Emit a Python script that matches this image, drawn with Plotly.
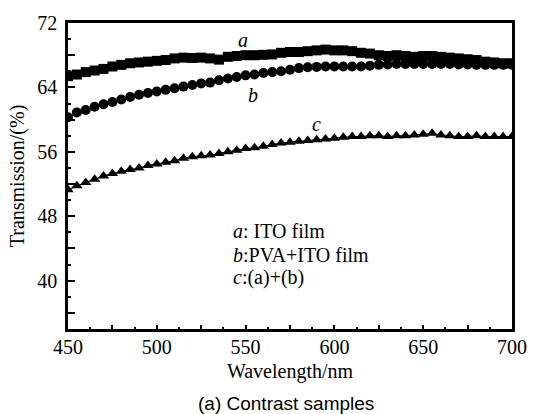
import plotly.graph_objects as go

wavelength = list(range(450, 701, 5))

ito_film = [65.4, 65.6, 65.9, 66.1, 66.3, 66.6, 66.8, 67.0, 67.1, 67.2,
            67.3, 67.4, 67.6, 67.7, 67.65, 67.7, 67.6, 67.45, 67.8, 67.9,
            68.0, 68.0, 68.05, 68.1, 68.3, 68.4, 68.4, 68.5, 68.6, 68.7,
            68.6, 68.6, 68.5, 68.3, 68.2, 68.0, 67.9, 68.0, 67.9, 67.8,
            67.9, 67.9, 67.8, 67.7, 67.6, 67.5, 67.4, 67.2, 67.1, 67.0, 67.0]

pva_ito_film = [60.3, 60.9, 61.2, 61.6, 61.9, 62.2, 62.5, 62.8, 63.1, 63.3,
                63.5, 63.7, 63.9, 64.1, 64.3, 64.5, 64.6, 64.9, 65.1, 65.3,
                65.5, 65.6, 65.8, 65.9, 66.0, 66.2, 66.4, 66.5, 66.55, 66.6,
                66.6, 66.6, 66.6, 66.6, 66.7, 66.8, 66.85, 66.9, 66.9, 66.9,
                66.9, 66.9, 66.9, 66.9, 66.85, 66.85, 66.8, 66.8, 66.8, 66.8, 66.8]

combined = [51.3, 51.8, 52.2, 52.6, 53.0, 53.3, 53.6, 53.8, 54.0, 54.3,
            54.5, 54.7, 54.9, 55.2, 55.4, 55.5, 55.6, 55.8, 56.0, 56.2,
            56.4, 56.5, 56.7, 56.9, 57.1, 57.2, 57.3, 57.4, 57.5, 57.6,
            57.7, 57.8, 57.9, 57.9, 58.0, 58.0, 57.9, 58.0, 58.0, 58.1,
            58.2, 58.3, 58.1, 58.0, 57.9, 57.9, 58.0, 57.9, 57.9, 57.9, 57.9]

x_tickvals = [450, 475, 500, 525, 550, 575, 600, 625, 650, 675, 700]
x_ticktext = ["450", "", "500", "", "550", "", "600", "", "650", "", "700"]
y_tickvals = [36, 40, 44, 48, 52, 56, 60, 64, 68, 72]
y_ticktext = ["", "40", "", "48", "", "56", "", "64", "", "72"]

SERIF = "Liberation Serif"

fig = go.Figure()
series = [(ito_film, "square"), (pva_ito_film, "circle"), (combined, "triangle-up")]
for vals, sym in series:
    fig.add_trace(go.Scatter(
        x=wavelength, y=vals, mode="lines+markers",
        line=dict(color="black", width=1),
        marker=dict(symbol=sym, size=10, color="black"),
        showlegend=False, hoverinfo="skip"))

axis_common = dict(showgrid=False, zeroline=False, showline=True, linecolor="black",
                   linewidth=2.5, mirror=True, ticks="inside", tickcolor="black",
                   tickfont=dict(family=SERIF, size=20, color="black"))

fig.update_xaxes(range=[450, 700], tickmode="array", tickvals=x_tickvals, ticktext=x_ticktext,
                 ticklen=4, tickwidth=2, ticklabelstandoff=-2,
                 minor=dict(dtick=12.5, tick0=450, ticks="inside", ticklen=2, tickwidth=2, tickcolor="black"),
                 title=dict(text="Wavelength/nm", font=dict(family=SERIF, size=20, color="black"), standoff=8),
                 **axis_common)
fig.update_yaxes(range=[34, 72], tickmode="array", tickvals=y_tickvals, ticktext=y_ticktext,
                 ticklen=7, tickwidth=2, ticklabelstandoff=4,
                 minor=dict(dtick=2, tick0=0, ticks="inside", ticklen=3, tickwidth=2, tickcolor="black"),
                 title=dict(text="Transmission/(%)", font=dict(family=SERIF, size=20, color="black"), standoff=8),
                 **axis_common)

ann_font = dict(family=SERIF, size=20, color="black")
fig.add_annotation(x=548.7, y=69.9, text="<i>a</i>", showarrow=False, font=ann_font)
fig.add_annotation(x=554, y=63.1, text="<i>b</i>", showarrow=False, font=ann_font)
fig.add_annotation(x=589.8, y=59.45, text="<i>c</i>", showarrow=False, font=ann_font)

legend_lines = ["<i>a</i>: ITO film", "<i>b</i>:PVA+ITO film", "<i>c</i>:(a)+(b)"]
legend_y = [46.2, 43.2, 40.4]
for txt, yy in zip(legend_lines, legend_y):
    fig.add_annotation(x=542, y=yy, text=txt, showarrow=False, xanchor="left", yanchor="middle",
                       font=ann_font)

fig.add_annotation(xref="paper", yref="paper", x=0.49, y=-0.242, text="(a) Contrast samples",
                   showarrow=False, xanchor="center", yanchor="middle",
                   font=dict(family="Liberation Sans", size=19, color="black"))

fig.update_layout(width=539, height=414, margin=dict(l=68, r=15, t=19, b=85),
                  paper_bgcolor="white", plot_bgcolor="white")

fig.write_html("out.html")
